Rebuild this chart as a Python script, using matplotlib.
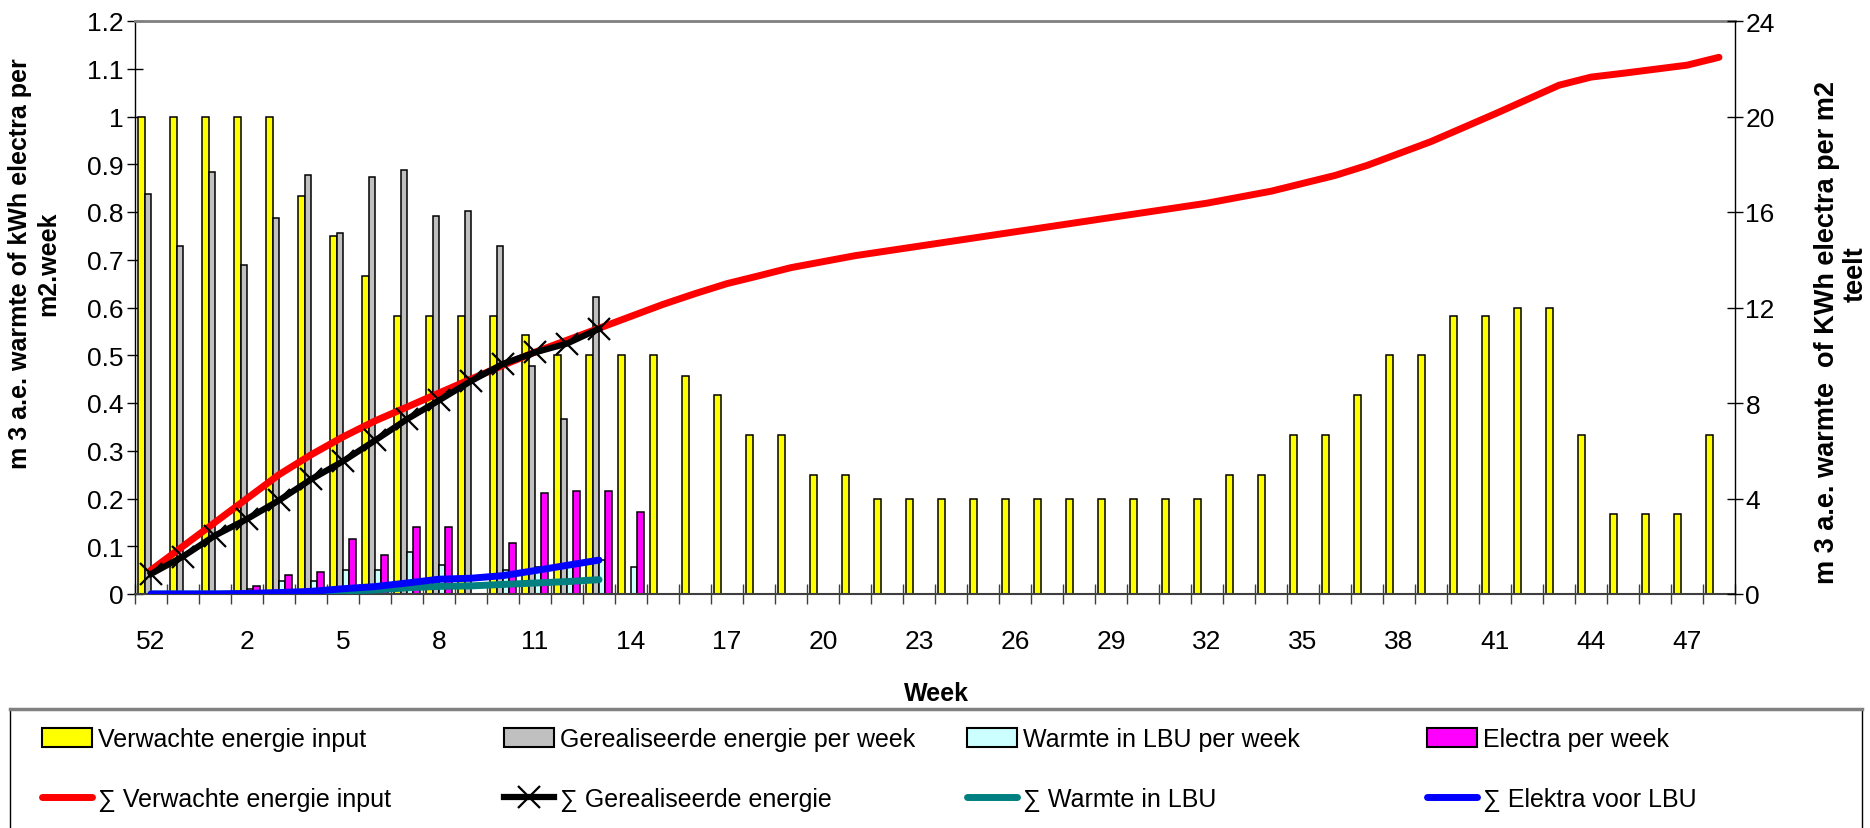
import numpy as np
import matplotlib
matplotlib.use('Agg')
import matplotlib.pyplot as plt
from matplotlib import font_manager
from matplotlib.patches import Patch, Rectangle
from matplotlib.lines import Line2D
from matplotlib.ticker import FixedLocator, FuncFormatter

# ---- data -------------------------------------------------------------
weeks = ['52', '53'] + [str(w) for w in range(1, 49)]

# weekly values (left axis, m3 a.e. / kWh per m2.week)
verwacht = [1.0, 1.0, 1.0, 1.0, 1.0, 0.833, 0.75, 0.667, 0.583, 0.583,
            0.583, 0.583, 0.542, 0.5, 0.5, 0.5, 0.5, 0.457, 0.417, 0.333,
            0.333, 0.25, 0.25, 0.2, 0.2, 0.2, 0.2, 0.2, 0.2, 0.2,
            0.2, 0.2, 0.2, 0.2, 0.25, 0.25, 0.333, 0.333, 0.417, 0.5,
            0.5, 0.583, 0.583, 0.6, 0.6, 0.333, 0.167, 0.167, 0.167, 0.333]
gerealiseerd = [0.838, 0.728, 0.883, 0.688, 0.787, 0.878, 0.757, 0.873,
                0.888, 0.792, 0.803, 0.728, 0.478, 0.366, 0.623]
warmte_lbu = [0, 0, 0, 0.01, 0.027, 0.027, 0.051, 0.051, 0.087, 0.061,
              0, 0.051, 0.056, 0.06, 0.071, 0.056]
electra = [0, 0, 0, 0.016, 0.04, 0.046, 0.115, 0.082, 0.141, 0.141,
           0, 0.107, 0.211, 0.216, 0.216, 0.171]

# cumulative values (right axis, per m2 teelt)
cum_verwacht = [1.0, 2.0, 3.0, 4.0, 5.0, 5.83, 6.58, 7.25, 7.83, 8.42,
                9.0, 9.58, 10.13, 10.63, 11.13, 11.63, 12.13, 12.58, 13.0, 13.33,
                13.67, 13.92, 14.17, 14.37, 14.57, 14.77, 14.97, 15.17, 15.37, 15.57,
                15.77, 15.97, 16.17, 16.37, 16.62, 16.87, 17.2, 17.53, 17.95, 18.45,
                18.95, 19.53, 20.11, 20.71, 21.31, 21.65, 21.81, 21.98, 22.15, 22.48]
cum_gerealiseerd = [0.84, 1.57, 2.45, 3.14, 3.92, 4.8, 5.56, 6.43, 7.32, 8.11,
                    8.92, 9.64, 10.12, 10.49, 11.11]
cum_warmte = [0, 0, 0, 0.01, 0.04, 0.07, 0.12, 0.17, 0.26, 0.32,
              0.34, 0.4, 0.46, 0.52, 0.6]
cum_elektra = [0, 0, 0, 0.02, 0.06, 0.11, 0.22, 0.31, 0.46, 0.62,
               0.66, 0.77, 0.98, 1.2, 1.42]

bar_labels = ['Verwachte energie input', 'Gerealiseerde energie per week',
              'Warmte in LBU per week', 'Electra per week']
line_labels = ['\u2211 Verwachte energie input', '\u2211 Gerealiseerde energie',
               '\u2211 Warmte in LBU', '\u2211 Elektra voor LBU']

# ---- font -------------------------------------------------------------
names = {f.name for f in font_manager.fontManager.ttflist}
if 'Liberation Sans Narrow' in names:
    fam, fs, lfs = 'Liberation Sans Narrow', 20.5, 20.5
else:
    fam, fs, lfs = 'Liberation Sans', 19, 18
plt.rcParams['font.family'] = [fam, 'DejaVu Sans']

# ---- figure -----------------------------------------------------------
W, H = 1870, 829
fig = plt.figure(figsize=(W / 100, H / 100), dpi=100)
ax = fig.add_axes([135 / W, 1 - 595 / H, 1600 / W, 573 / H])
ax2 = ax.twinx()

x = np.arange(len(weeks))
bw = 0.2
bar_colors = ['#FFFF00', '#C0C0C0', '#CCFFFF', '#FF00FF']


def draw_bars(offset, vals, color):
    vals = np.asarray(vals, dtype=float)
    xs = x[:len(vals)]
    keep = vals > 0
    ax.bar(xs[keep] + offset, vals[keep], bw, color=color,
           edgecolor='black', linewidth=1.1, zorder=2)


draw_bars(-0.3, verwacht, bar_colors[0])
draw_bars(-0.1, gerealiseerd, bar_colors[1])
draw_bars(0.1, warmte_lbu, bar_colors[2])
draw_bars(0.3, electra, bar_colors[3])

ax2.plot(x, cum_verwacht, color='#FF0000', lw=5, solid_capstyle='round')
ax2.plot(x[:len(cum_gerealiseerd)], cum_gerealiseerd, color='black', lw=4.5,
         marker='x', ms=16, mew=1.6)
ax2.plot(x[:len(cum_warmte)], cum_warmte, color='#008080', lw=5,
         solid_capstyle='round')
ax2.plot(x[:len(cum_elektra)], cum_elektra, color='#0000FF', lw=5,
         solid_capstyle='round')

# ---- axes -------------------------------------------------------------
ax.set_xlim(-0.5, len(weeks) - 0.5)
ax.set_ylim(0, 1.2)
ax2.set_ylim(0, 24)

ax.xaxis.set_major_locator(FixedLocator(np.arange(-0.5, len(weeks), 1)))
ax.xaxis.set_minor_locator(FixedLocator(x[::3]))
ax.xaxis.set_minor_formatter(FuncFormatter(lambda v, p: weeks[int(round(v))]))
ax.tick_params(axis='x', which='major', direction='inout', length=14,
               width=1, color='#404040', labelbottom=False)
ax.tick_params(axis='x', which='minor', length=0, pad=25, labelsize=fs)

ax.set_yticks(np.arange(0, 1.21, 0.1))
ax.yaxis.set_major_formatter(FuncFormatter(lambda v, p: f'{v:g}'))
ax.tick_params(axis='y', direction='inout', length=11, width=1,
               labelsize=fs, pad=3)
ax2.set_yticks(np.arange(0, 25, 4))
ax2.tick_params(axis='y', direction='inout', length=11, width=1,
                labelsize=fs, pad=2)

ax.spines['top'].set_color('#808080')
ax.spines['top'].set_linewidth(2)
ax.spines['bottom'].set_color('#404040')
ax.spines['bottom'].set_linewidth(1.5)
ax.spines['left'].set_linewidth(1)
ax.spines['right'].set_visible(False)
for s in ['top', 'bottom', 'left']:
    ax2.spines[s].set_visible(False)
ax2.spines['right'].set_linewidth(1)

# ---- labels -----------------------------------------------------------
fig.text(34 / W, 1 - 264 / H, 'm 3 a.e. warmte of kWh electra per\nm2.week',
         rotation=90, ha='center', va='center', multialignment='center',
         fontsize=18, fontweight='bold')
fig.text(1827 / W, 1 - 332 / H, 'm 3 a.e. warmte  of KWh electra per m2',
         rotation=90, ha='center', va='center', fontsize=19.5,
         fontweight='bold')
fig.text(1856 / W, 1 - 274 / H, 'teelt', rotation=90, ha='center',
         va='center', fontsize=19.5, fontweight='bold')
fig.text(936 / W, 1 - 694 / H, 'Week', ha='center', va='center',
         fontsize=18, fontweight='bold')

# ---- legend -----------------------------------------------------------
fig.add_artist(Rectangle((10 / W, -0.01), 1852 / W, (829 - 710) / H + 0.01,
                         transform=fig.transFigure, fill=False,
                         edgecolor='black', linewidth=1))
fig.add_artist(Line2D([10 / W, 1862 / W], [1 - 710 / H] * 2,
                      transform=fig.transFigure, color='#808080', lw=2.5))

line_handles = [
    Line2D([], [], color='#FF0000', lw=5, solid_capstyle='round'),
    Line2D([], [], color='black', lw=4.5, marker='x', ms=16, mew=1.6),
    Line2D([], [], color='#008080', lw=5, solid_capstyle='round'),
    Line2D([], [], color='#0000FF', lw=5, solid_capstyle='round'),
]
col_x = [42, 504, 967, 1427]
for i in range(4):
    bar_h = Patch(facecolor=bar_colors[i], edgecolor='black', linewidth=1.5)
    fig.legend([bar_h, line_handles[i]], [bar_labels[i], line_labels[i]],
               loc='upper left', bbox_to_anchor=(col_x[i] / W, 1 - 728 / H),
               frameon=False, fontsize=lfs, handlelength=2.0,
               handleheight=0.8, handletextpad=0.25, labelspacing=1.45,
               borderpad=0, borderaxespad=0)

fig.savefig('out.png', dpi=100)
